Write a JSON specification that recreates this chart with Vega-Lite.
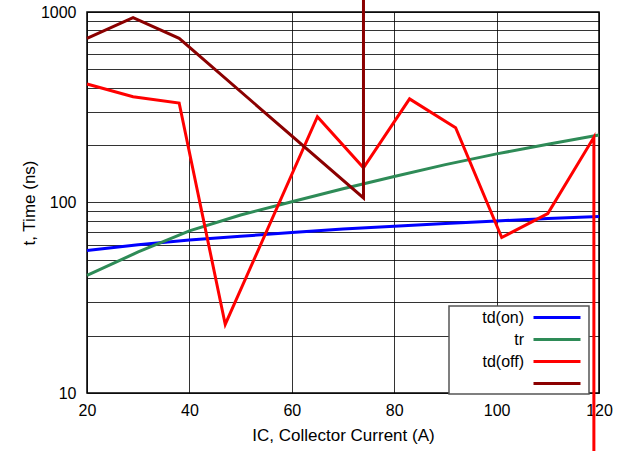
{
  "$schema": "https://vega.github.io/schema/vega-lite/v6.json",
  "autosize": {"type": "none"},
  "width": 512,
  "height": 381,
  "padding": {"left": 87, "top": 12, "right": 27, "bottom": 58},
  "background": "white",
  "data": {
    "values": [
      {"series": "td(on)", "seq": 1, "ic": 20, "t": 56},
      {"series": "td(on)", "seq": 2, "ic": 30, "t": 60},
      {"series": "td(on)", "seq": 3, "ic": 40, "t": 63.5},
      {"series": "td(on)", "seq": 4, "ic": 50, "t": 66.5},
      {"series": "td(on)", "seq": 5, "ic": 60, "t": 69.5},
      {"series": "td(on)", "seq": 6, "ic": 70, "t": 72.5},
      {"series": "td(on)", "seq": 7, "ic": 80, "t": 75},
      {"series": "td(on)", "seq": 8, "ic": 90, "t": 77.5},
      {"series": "td(on)", "seq": 9, "ic": 100, "t": 80},
      {"series": "td(on)", "seq": 10, "ic": 110, "t": 82.5},
      {"series": "td(on)", "seq": 11, "ic": 120, "t": 84.5},
      {"series": "tr", "seq": 1, "ic": 20, "t": 41.5},
      {"series": "tr", "seq": 2, "ic": 30, "t": 55},
      {"series": "tr", "seq": 3, "ic": 40, "t": 71},
      {"series": "tr", "seq": 4, "ic": 50, "t": 86},
      {"series": "tr", "seq": 5, "ic": 60, "t": 101},
      {"series": "tr", "seq": 6, "ic": 70, "t": 118},
      {"series": "tr", "seq": 7, "ic": 80, "t": 137},
      {"series": "tr", "seq": 8, "ic": 90, "t": 158},
      {"series": "tr", "seq": 9, "ic": 100, "t": 180},
      {"series": "tr", "seq": 10, "ic": 110, "t": 202},
      {"series": "tr", "seq": 11, "ic": 120, "t": 226},
      {"series": "td(off)", "seq": 1, "ic": 20, "t": 419},
      {"series": "td(off)", "seq": 2, "ic": 29, "t": 359},
      {"series": "td(off)", "seq": 3, "ic": 38, "t": 333},
      {"series": "td(off)", "seq": 4, "ic": 47, "t": 22.9},
      {"series": "td(off)", "seq": 5, "ic": 65, "t": 282},
      {"series": "td(off)", "seq": 6, "ic": 74, "t": 152},
      {"series": "td(off)", "seq": 7, "ic": 83, "t": 350},
      {"series": "td(off)", "seq": 8, "ic": 92, "t": 247},
      {"series": "td(off)", "seq": 9, "ic": 101, "t": 65.5},
      {"series": "td(off)", "seq": 10, "ic": 110, "t": 87.5},
      {"series": "td(off)", "seq": 11, "ic": 119, "t": 220},
      {"series": "td(off)", "seq": 12, "ic": 119, "t": 1},
      {"series": "tf", "seq": 1, "ic": 20, "t": 727},
      {"series": "tf", "seq": 2, "ic": 29, "t": 933},
      {"series": "tf", "seq": 3, "ic": 38, "t": 727},
      {"series": "tf", "seq": 4, "ic": 74, "t": 105.7},
      {"series": "tf", "seq": 5, "ic": 74, "t": 100000}
    ]
  },
  "mark": {"type": "line", "strokeWidth": 3, "clip": false},
  "encoding": {
    "x": {
      "field": "ic", "type": "quantitative",
      "scale": {"domain": [20, 120], "nice": false, "zero": false},
      "axis": {
        "title": "IC, Collector Current (A)",
        "values": [20, 40, 60, 80, 100, 120],
        "ticks": false, "domain": false,
        "labelPadding": 9, "titlePadding": 9
      }
    },
    "y": {
      "field": "t", "type": "quantitative",
      "scale": {"type": "log", "domain": [10, 1000], "nice": false},
      "axis": {
        "title": "t, Time (ns)",
        "values": [10, 20, 30, 40, 50, 60, 70, 80, 90, 100, 200, 300, 400, 500, 600, 700, 800, 900, 1000],
        "labelExpr": "datum.value == 10 || datum.value == 100 || datum.value == 1000 ? datum.label : ''",
        "format": "d",
        "ticks": false, "domain": false,
        "labelPadding": 11, "titlePadding": 2
      }
    },
    "color": {
      "field": "series", "type": "nominal",
      "scale": {
        "domain": ["td(on)", "tr", "td(off)", "tf"],
        "range": ["#0000ff", "#2e8b57", "#ff0000", "#8b0000"]
      },
      "legend": {
        "title": "\u00a0",
        "titleOrient": "right",
        "titlePadding": 0,
        "orient": "none",
        "legendX": 362,
        "legendY": 294,
        "labelExpr": "datum.value == 'tf' ? '' : datum.value"
      }
    },
    "order": {"field": "seq", "type": "quantitative"}
  },
  "config": {
    "font": "Liberation Sans",
    "view": {"stroke": "black", "strokeWidth": 1.5},
    "axis": {
      "grid": true, "gridColor": "black", "gridOpacity": 0.8, "gridWidth": 1,
      "labelFontSize": 16, "labelColor": "black",
      "titleFontSize": 17, "titleFontWeight": "normal", "titleColor": "black",
      "labelFlush": false, "labelOverlap": false
    },
    "legend": {
      "strokeColor": "#555555", "strokeWidth": 1.5, "fillColor": "white",
      "padding": 2,
      "symbolType": "M-2.9375,0H2.9375", "symbolSize": 256, "symbolStrokeWidth": 3,
      "labelAlign": "right", "labelOffset": -42.5, "symbolOffset": 96.5,
      "labelFontSize": 16, "labelColor": "black", "rowPadding": 4,
      "labelLimit": 200, "titleFontSize": 10
    }
  }
}
